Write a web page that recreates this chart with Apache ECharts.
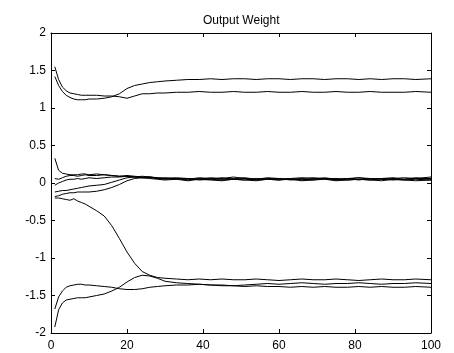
<!DOCTYPE html>
<html>
<head>
<meta charset="utf-8">
<script src="https://cdn.jsdelivr.net/npm/echarts@6/dist/echarts.min.js"></script>
<style>html,body{margin:0;padding:0;background:#fff;}#chart{width:454px;height:353px;}</style>
</head>
<body>
<div id="chart"></div>
<script>
const titleText = "Output Weight";
const xs = [1,2,3,4,5,6,7,8,9,10,12,14,16,18,20,22,24,26,28,30,33,36,39,42,45,48,51,54,57,60,63,66,69,72,75,78,81,84,87,90,93,96,100];
const top1 = [1.42,1.30,1.22,1.17,1.14,1.12,1.11,1.11,1.11,1.12,1.12,1.13,1.15,1.19,1.26,1.30,1.32,1.34,1.35,1.36,1.37,1.38,1.38,1.39,1.38,1.39,1.39,1.38,1.39,1.39,1.38,1.39,1.39,1.38,1.39,1.39,1.38,1.39,1.38,1.39,1.39,1.38,1.39];
const top2 = [1.55,1.38,1.28,1.23,1.20,1.19,1.18,1.17,1.17,1.17,1.17,1.16,1.16,1.15,1.13,1.16,1.19,1.19,1.20,1.20,1.21,1.21,1.22,1.21,1.21,1.22,1.21,1.21,1.22,1.21,1.21,1.22,1.21,1.21,1.22,1.21,1.21,1.22,1.21,1.21,1.21,1.22,1.21];
const mid1 = [0.33,0.17,0.13,0.12,0.11,0.11,0.11,0.12,0.12,0.11,0.12,0.11,0.10,0.09,0.09,0.08,0.07,0.07,0.06,0.07,0.06,0.05,0.07,0.06,0.05,0.06,0.07,0.05,0.06,0.05,0.06,0.07,0.06,0.05,0.06,0.05,0.07,0.06,0.05,0.06,0.07,0.06,0.06];
const mid2 = [0.06,0.05,0.07,0.09,0.10,0.10,0.09,0.10,0.11,0.10,0.10,0.11,0.10,0.09,0.10,0.09,0.08,0.08,0.07,0.06,0.07,0.06,0.05,0.07,0.06,0.08,0.06,0.05,0.07,0.06,0.05,0.06,0.07,0.06,0.04,0.06,0.07,0.05,0.06,0.07,0.05,0.06,0.08];
const mid3 = [-0.03,0.00,0.02,0.04,0.05,0.05,0.06,0.05,0.06,0.07,0.06,0.07,0.08,0.08,0.09,0.08,0.07,0.08,0.06,0.05,0.06,0.04,0.06,0.05,0.04,0.05,0.06,0.04,0.05,0.06,0.04,0.05,0.04,0.06,0.05,0.04,0.05,0.04,0.06,0.05,0.04,0.05,0.04];
const mid4 = [-0.12,-0.11,-0.10,-0.10,-0.09,-0.08,-0.07,-0.06,-0.05,-0.04,-0.03,-0.02,0.01,0.04,0.07,0.08,0.09,0.08,0.07,0.06,0.05,0.06,0.04,0.05,0.07,0.05,0.04,0.06,0.05,0.04,0.06,0.04,0.05,0.07,0.05,0.06,0.04,0.06,0.05,0.04,0.05,0.07,0.05];
const mid5 = [-0.18,-0.17,-0.15,-0.14,-0.13,-0.13,-0.12,-0.12,-0.12,-0.12,-0.11,-0.09,-0.06,-0.02,0.03,0.06,0.07,0.06,0.05,0.04,0.05,0.03,0.05,0.04,0.03,0.05,0.04,0.03,0.05,0.04,0.05,0.03,0.04,0.05,0.03,0.04,0.05,0.04,0.03,0.05,0.04,0.03,0.04];
const fall = [-0.20,-0.20,-0.21,-0.22,-0.23,-0.21,-0.24,-0.26,-0.28,-0.31,-0.37,-0.44,-0.57,-0.74,-0.92,-1.07,-1.18,-1.23,-1.26,-1.27,-1.28,-1.29,-1.28,-1.29,-1.28,-1.29,-1.29,-1.28,-1.29,-1.30,-1.29,-1.28,-1.29,-1.29,-1.28,-1.29,-1.30,-1.29,-1.28,-1.29,-1.29,-1.28,-1.29];
const low1 = [-1.68,-1.52,-1.44,-1.39,-1.37,-1.36,-1.35,-1.35,-1.36,-1.36,-1.37,-1.38,-1.39,-1.41,-1.42,-1.42,-1.41,-1.39,-1.38,-1.37,-1.36,-1.36,-1.35,-1.36,-1.36,-1.37,-1.36,-1.35,-1.34,-1.35,-1.34,-1.33,-1.34,-1.35,-1.34,-1.34,-1.33,-1.34,-1.35,-1.34,-1.34,-1.33,-1.34];
const low2 = [-1.92,-1.69,-1.60,-1.56,-1.55,-1.54,-1.53,-1.53,-1.53,-1.52,-1.50,-1.48,-1.44,-1.39,-1.32,-1.26,-1.23,-1.24,-1.27,-1.31,-1.33,-1.34,-1.35,-1.36,-1.37,-1.37,-1.38,-1.37,-1.38,-1.38,-1.39,-1.38,-1.39,-1.38,-1.39,-1.39,-1.38,-1.39,-1.38,-1.39,-1.39,-1.38,-1.39];
const seriesList = [top1, top2, mid1, mid2, mid3, mid4, mid5, fall, low1, low2];

const font = "'Liberation Sans', Arial, Helvetica, sans-serif";
const chart = echarts.init(document.getElementById('chart'), null, {renderer: 'canvas'});
function axis(extra) {
  return Object.assign({
    type: 'value',
    axisLine: {show: true, onZero: false, lineStyle: {color: '#000', width: 1}},
    axisTick: {show: true, inside: true, length: 4, lineStyle: {color: '#000'}},
    splitLine: {show: false}
  }, extra);
}
chart.setOption({
  backgroundColor: '#fff',
  animation: false,
  title: {text: titleText, left: 198, top: 10,
    textStyle: {fontFamily: font, fontSize: 12, fontWeight: 'normal', color: '#000'}},
  grid: {left: 51, right: 23, top: 33, bottom: 20},
  xAxis: [
    axis({position: 'bottom', min: 0, max: 100, interval: 20,
      axisLabel: {show: true, color: '#000', fontFamily: font, fontSize: 12, margin: 7}}),
    axis({position: 'top', min: 0, max: 100, interval: 20,
      axisLabel: {show: false}})
  ],
  yAxis: [
    axis({position: 'left', min: -2, max: 2, interval: 0.5,
      axisLabel: {show: true, color: '#000', fontFamily: font, fontSize: 12, margin: 5}}),
    axis({position: 'right', min: -2, max: 2, interval: 0.5,
      axisLabel: {show: false}})
  ],
  series: seriesList.map(ys => ({
    type: 'line', xAxisIndex: 0, yAxisIndex: 0, showSymbol: false, symbol: 'none',
    lineStyle: {color: '#000', width: 1}, silent: true,
    data: xs.map((x, i) => [x, ys[i]])
  }))
});
</script>
</body>
</html>
